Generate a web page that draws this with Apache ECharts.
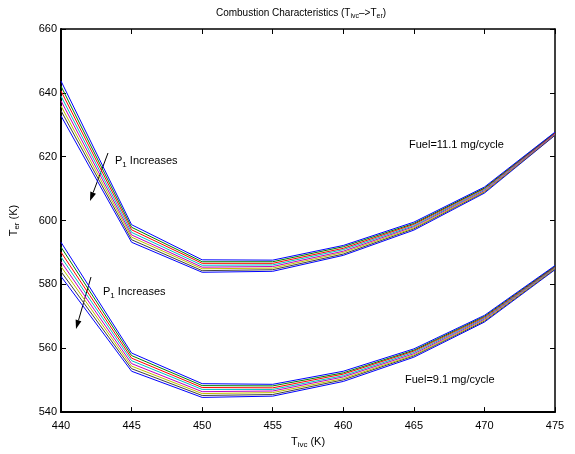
<!DOCTYPE html>
<html><head><meta charset="utf-8">
<script src="https://cdn.jsdelivr.net/npm/echarts@6/dist/echarts.min.js"></script>
<style>html,body{margin:0;padding:0;background:#fff}#c{width:575px;height:454px}</style>
</head><body><div id="c"></div>
<script>
const tivc = [440, 445, 450, 455, 460, 465, 470, 475];
// Fuel = 11.1 mg/cycle, eight P1 levels (top to bottom)
const fuel111 = [
  [643.7, 598.7, 587.7, 587.6, 592.2, 599.5, 610.5, 627.7],
  [642.1, 597.9, 587.1, 587.1, 591.8, 599.1, 610.2, 627.6],
  [640.6, 597.1, 586.6, 586.6, 591.3, 598.8, 610.0, 627.4],
  [639.0, 596.3, 586.0, 586.1, 590.9, 598.4, 609.7, 627.3],
  [637.5, 595.5, 585.4, 585.6, 590.4, 598.1, 609.4, 627.1],
  [635.9, 594.8, 584.9, 585.1, 590.0, 597.7, 609.1, 627.0],
  [634.4, 594.0, 584.3, 584.6, 589.5, 597.4, 608.9, 626.8],
  [632.8, 593.2, 583.8, 584.1, 589.1, 597.0, 608.6, 626.7]
];
// Fuel = 9.1 mg/cycle
const fuel91 = [
  [593.2, 558.5, 548.9, 548.7, 552.8, 559.8, 570.3, 585.9],
  [591.7, 557.7, 548.3, 548.2, 552.3, 559.4, 570.0, 585.7],
  [590.1, 556.9, 547.7, 547.6, 551.9, 559.1, 569.7, 585.5],
  [588.6, 556.1, 547.1, 547.1, 551.4, 558.7, 569.4, 585.3],
  [587.1, 555.2, 546.4, 546.6, 551.0, 558.3, 569.1, 585.2],
  [585.6, 554.4, 545.8, 546.1, 550.5, 557.9, 568.8, 585.0],
  [584.0, 553.6, 545.2, 545.5, 550.1, 557.6, 568.5, 584.8],
  [582.5, 552.8, 544.6, 545.0, 549.6, 557.2, 568.2, 584.6]
];
const colors = ['#0000ff', '#008000', '#ff0000', '#00bfbf', '#bf00bf', '#bfbf00', '#404040', '#0000ff'];
const xTicks = {min: 440, max: 475, interval: 5};
const yTicks = {min: 540, max: 660, interval: 20};

const FONT = 'Liberation Sans, Arial, sans-serif';
const series = [];
[fuel111, fuel91].forEach(group => {
  group.forEach((vals, i) => {
    series.push({
      type: 'line', showSymbol: false, symbol: 'none',
      data: tivc.map((x, k) => [x, vals[k]]),
      lineStyle: {color: colors[i], width: 1},
      itemStyle: {color: colors[i]},
      z: 10 - i
    });
  });
});

function arrow(x1, y1, x2, y2) {
  const dx = x2 - x1, dy = y2 - y1, L = Math.hypot(dx, dy);
  const ux = dx / L, uy = dy / L, hl = 9, hw = 3;
  const bx = x2 - hl * ux, by = y2 - hl * uy;
  return [
    {type: 'line', shape: {x1, y1, x2: bx, y2: by}, style: {stroke: '#000', lineWidth: 1}},
    {type: 'polygon', shape: {points: [[x2, y2], [bx - hw * uy, by + hw * ux], [bx + hw * uy, by - hw * ux]]}, style: {fill: '#000'}}
  ];
}
const subRich = {
  n: {fontSize: 11, fontFamily: FONT, color: '#000'},
  s: {fontSize: 8, fontFamily: FONT, color: '#000', padding: [7, 0, 0, 0]}
};
const titleRich = {
  n: {fontSize: 10, fontFamily: FONT, color: '#000'},
  s: {fontSize: 7, fontFamily: FONT, color: '#000', padding: [6, 0, 0, 0]}
};
function label(x, y, text) {
  return {type: 'text', x, y, style: {text, rich: subRich, font: '11px ' + FONT, fill: '#000', verticalAlign: 'middle'}};
}

const chart = echarts.init(document.getElementById('c'), null, {renderer: 'canvas'});
chart.setOption({
  animation: false,
  backgroundColor: '#fff',
  title: {
    text: '{n|Combustion Characteristics (T}{s|ivc}{n|–>T}{s|er}{n|)}',
    left: 296, top: 2, textAlign: 'center',
    textStyle: {rich: titleRich, fontSize: 10, fontWeight: 'normal', fontFamily: FONT}
  },
  grid: {left: 59, right: 20, top: 29, bottom: 35, containLabel: false},
  xAxis: [{
    type: 'value', min: xTicks.min, max: xTicks.max, interval: xTicks.interval,
    name: '{n|T}{s|ivc}{n| (K)}', nameLocation: 'middle', nameGap: 17,
    nameTextStyle: {rich: subRich},
    axisLine: {lineStyle: {color: '#000', width: 2}},
    axisTick: {inside: true, length: 5, lineStyle: {color: '#000'}},
    axisLabel: {color: '#000', fontSize: 11, fontFamily: FONT, margin: 8},
    splitLine: {show: false}
  }, {
    type: 'value', position: 'top', min: xTicks.min, max: xTicks.max, interval: xTicks.interval,
    axisLine: {show: true, lineStyle: {color: '#000', width: 1.5}},
    axisTick: {inside: true, length: 5, lineStyle: {color: '#000'}},
    axisLabel: {show: false}, splitLine: {show: false}
  }],
  yAxis: [{
    type: 'value', min: yTicks.min, max: yTicks.max, interval: yTicks.interval,
    name: '{n|T}{s|er}{n| (K)}', nameLocation: 'middle', nameGap: 40, nameRotate: 90,
    nameTextStyle: {rich: subRich},
    axisLine: {show: true, lineStyle: {color: '#000', width: 2}},
    axisTick: {show: true, inside: true, length: 5, lineStyle: {color: '#000'}},
    axisLabel: {color: '#000', fontSize: 11, fontFamily: FONT, margin: 4},
    splitLine: {show: false}
  }, {
    type: 'value', position: 'right', min: yTicks.min, max: yTicks.max, interval: yTicks.interval,
    axisLine: {show: true, lineStyle: {color: '#000', width: 1.5}},
    axisTick: {show: true, inside: true, length: 5, lineStyle: {color: '#000'}},
    axisLabel: {show: false}, splitLine: {show: false}
  }],
  series,
  graphic: [
    label(115, 161, '{n|P}{s|1}{n| Increases}'),
    label(103, 292, '{n|P}{s|1}{n| Increases}'),
    label(409, 145, '{n|Fuel=11.1 mg/cycle}'),
    label(405, 380, '{n|Fuel=9.1 mg/cycle}'),
    ...arrow(108, 153, 90, 201),
    ...arrow(91, 277, 76, 329)
  ]
});
</script></body></html>
